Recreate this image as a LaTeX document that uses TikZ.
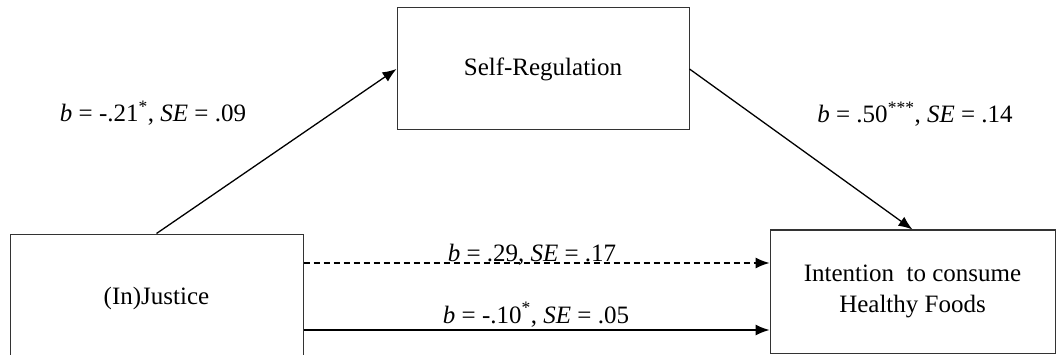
\documentclass[tikz,border=0pt]{standalone}
\usepackage{fontspec}
\setmainfont{Liberation Serif}
\usetikzlibrary{arrows.meta}
\begin{document}
\begin{tikzpicture}[x=1pt,y=-1pt,
  box/.style={draw=black!80,line width=1pt,inner sep=0pt,align=center,font=\fontsize{25}{31}\selectfont},
  lbl/.style={inner sep=0pt,anchor=base,font=\fontsize{25}{31}\selectfont},
  arr/.style={line width=1.3pt,-{Latex[length=14pt,width=11pt]}}]
\useasboundingbox (0,0) rectangle (1056,355);
\clip (0,0) rectangle (1056,355);
\node[box,minimum width=293pt,minimum height=128pt] (inj) at (156.5,298) {(In)Justice};
\node[box,minimum width=292pt,minimum height=122pt] (sr) at (543,69) {Self-Regulation};
\node[box,minimum width=285pt,minimum height=123pt] (int) at (912.5,291.5) {Intention\ \ to consume\\Healthy Foods};
\coordinate (d1) at (0,263);
\coordinate (d2) at (0,330);
\draw[arr] (inj.north) -- (sr.west);
\draw[arr] (sr.east) -- (int.north);
\draw[arr,dashed,dash pattern=on 6pt off 4pt] (inj.east |- d1) -- (int.west |- d1);
\draw[arr] (inj.east |- d2) -- (int.west |- d2);
\node[lbl] (l1) at (153,122) {\textit{b} = -.21\textsuperscript{*}, \textit{SE} = .09};
\node[lbl] (l2) at (915,123) {\textit{b} = .50\textsuperscript{***}, \textit{SE} = .14};
\node[lbl] (l3) at (532,261) {\textit{b} = .29, \textit{SE} = .17};
\node[lbl] (l4) at (536,323) {\textit{b} = -.10\textsuperscript{*}, \textit{SE} = .05};
\end{tikzpicture}
\end{document}
